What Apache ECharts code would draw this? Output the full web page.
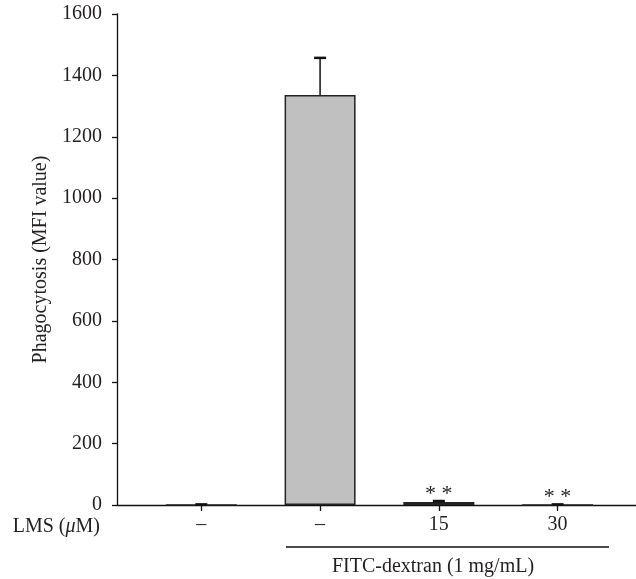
<!DOCTYPE html>
<html>
<head>
<meta charset="utf-8">
<script src="https://cdn.jsdelivr.net/npm/echarts@6/dist/echarts.min.js"></script>
<style>html,body{margin:0;padding:0;background:#fff}#c{width:636px;height:579px}</style>
</head>
<body>
<div id="c"></div>
<script>
var categories = ['\u2013', '\u2013', '15', '30'];
var values = [0, 1336, 10, 0];
var errors = [2, 121, 3, 2];
var significance = ['', '', '* *', '* *'];
var yTicks = [0, 200, 400, 600, 800, 1000, 1200, 1400, 1600];

var FONT = '"Liberation Serif", "DejaVu Serif", serif';
var FS = 20;
var chart = echarts.init(document.getElementById('c'));

var barData = values.map(function (v, i) { return [i, v]; });
var errData = values.map(function (v, i) { return [i, v, v + errors[i], significance[i]]; });

chart.setOption({
  animation: false,
  grid: { left: 117, right: 0, top: 14, bottom: 74, containLabel: false },
  xAxis: {
    type: 'value',
    min: -0.71,
    max: 3.66,
    splitLine: { show: false },
    axisLine: { show: true, onZero: false, lineStyle: { color: '#111', width: 1.3 } },
    axisTick: { show: true, customValues: [0, 1, 2, 3], length: 6, lineStyle: { color: '#111', width: 1.3 } },
    axisLabel: {
      show: true, customValues: [0, 1, 2, 3], margin: 10,
      fontFamily: FONT, fontSize: FS, color: '#231f20',
      formatter: function (v) { return categories[Math.round(v)]; }
    }
  },
  yAxis: {
    type: 'value',
    min: 0, max: 1600, interval: 200,
    name: 'Phagocytosis (MFI value)',
    nameLocation: 'middle', nameGap: 63, nameRotate: 90,
    nameTextStyle: { fontFamily: FONT, fontSize: FS, color: '#231f20' },
    splitLine: { show: false },
    axisLine: { show: true, onZero: false, lineStyle: { color: '#111', width: 1.3 } },
    axisTick: { show: true, length: 5, lineStyle: { color: '#111', width: 1.3 } },
    axisLabel: {
      margin: 15, fontFamily: FONT, fontSize: FS, color: '#231f20',
      formatter: function (v) { return String(v); }
    }
  },
  series: [
    {
      type: 'bar',
      data: barData,
      barWidth: 71,
      itemStyle: { color: '#c0c0c0', borderColor: '#222', borderWidth: 1.5 },
      z: 2
    },
    {
      type: 'custom',
      data: errData,
      z: 3,
      renderItem: function (params, api) {
        var x = api.value(0);
        var low = api.coord([x, api.value(1)]);
        var high = api.coord([x, api.value(2)]);
        var capW = 6;
        var children = [
          { type: 'line', shape: { x1: low[0], y1: low[1], x2: high[0], y2: high[1] }, style: { stroke: '#111', lineWidth: 1.5 } },
          { type: 'line', shape: { x1: high[0] - capW, y1: high[1], x2: high[0] + capW, y2: high[1] }, style: { stroke: '#111', lineWidth: 2.5 } }
        ];
        var sig = api.value(3);
        if (sig) {
          children.push({ type: 'text', style: { text: sig, x: high[0], y: high[1] + 4, align: 'center', verticalAlign: 'bottom', fontFamily: FONT, fontSize: 22, fill: '#231f20' } });
        }
        return { type: 'group', children: children };
      }
    }
  ],
  graphic: [
    {
      type: 'text', x: 100, y: 527,
      style: {
        text: '{a|LMS (}{b|\u03bc}{a|M)}',
        align: 'right', verticalAlign: 'middle',
        rich: {
          a: { fontFamily: FONT, fontSize: FS, fill: '#231f20' },
          b: { fontFamily: FONT, fontSize: FS, fontStyle: 'italic', fill: '#231f20' }
        }
      }
    },
    { type: 'line', shape: { x1: 286, y1: 547, x2: 609, y2: 547 }, style: { stroke: '#111', lineWidth: 1.3 } },
    {
      type: 'text', x: 433, y: 567,
      style: { text: 'FITC-dextran (1 mg/mL)', align: 'center', verticalAlign: 'middle', fontFamily: FONT, fontSize: FS, fill: '#231f20' }
    }
  ]
});
</script>
</body>
</html>
